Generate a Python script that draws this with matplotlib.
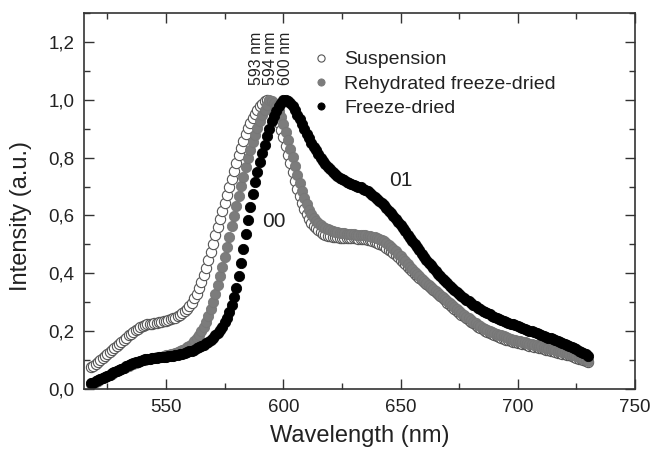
import numpy as np
import matplotlib
matplotlib.use("Agg")
import matplotlib.pyplot as plt
from matplotlib.ticker import MultipleLocator, FuncFormatter

plt.rcParams['font.family'] = ['Liberation Sans', 'DejaVu Sans']

# emission spectra, one value per nm from 518 to 730 nm
wavelength = np.arange(518, 731)

suspension = [
    0.075, 0.080, 0.087, 0.094, 0.101, 0.108, 0.115, 0.122, 0.129, 0.136,
    0.143, 0.150, 0.157, 0.164, 0.171, 0.178, 0.185, 0.191, 0.197, 0.203,
    0.209, 0.214, 0.218, 0.221, 0.223, 0.225, 0.226, 0.227, 0.228, 0.230,
    0.232, 0.234, 0.236, 0.238, 0.241, 0.244, 0.247, 0.251, 0.256, 0.262,
    0.269, 0.277, 0.287, 0.299, 0.313, 0.329, 0.348, 0.370, 0.394, 0.420,
    0.447, 0.475, 0.503, 0.531, 0.559, 0.587, 0.615, 0.643, 0.671, 0.699,
    0.727, 0.755, 0.782, 0.808, 0.833, 0.857, 0.880, 0.901, 0.920, 0.937,
    0.952, 0.965, 0.977, 0.987, 0.995, 1.000, 0.996, 0.985, 0.968, 0.946,
    0.921, 0.896, 0.870, 0.840, 0.810, 0.780, 0.750, 0.720, 0.693, 0.667,
    0.643, 0.622, 0.604, 0.588, 0.575, 0.564, 0.555, 0.548, 0.542, 0.537,
    0.533, 0.530, 0.528, 0.526, 0.525, 0.524, 0.523, 0.523, 0.522, 0.522,
    0.522, 0.521, 0.521, 0.521, 0.520, 0.519, 0.518, 0.517, 0.516, 0.514,
    0.512, 0.509, 0.506, 0.502, 0.498, 0.493, 0.488, 0.482, 0.476, 0.469,
    0.462, 0.455, 0.447, 0.439, 0.431, 0.423, 0.415, 0.407, 0.399, 0.391,
    0.383, 0.376, 0.369, 0.362, 0.355, 0.348, 0.341, 0.334, 0.327, 0.320,
    0.313, 0.306, 0.299, 0.292, 0.285, 0.278, 0.271, 0.264, 0.257, 0.251,
    0.245, 0.239, 0.233, 0.227, 0.221, 0.216, 0.211, 0.206, 0.201, 0.197,
    0.193, 0.189, 0.186, 0.183, 0.180, 0.177, 0.174, 0.171, 0.168, 0.166,
    0.164, 0.162, 0.160, 0.158, 0.156, 0.154, 0.152, 0.150, 0.148, 0.146,
    0.144, 0.142, 0.140, 0.138, 0.136, 0.134, 0.132, 0.130, 0.128, 0.126,
    0.124, 0.122, 0.120, 0.118, 0.116, 0.114, 0.111, 0.108, 0.105, 0.102,
    0.099, 0.096, 0.093,
]

rehydrated = [
    0.018, 0.021, 0.025, 0.029, 0.033, 0.037, 0.041, 0.045, 0.049, 0.053,
    0.057, 0.061, 0.065, 0.069, 0.073, 0.077, 0.081, 0.085, 0.088, 0.091,
    0.094, 0.097, 0.099, 0.101, 0.103, 0.105, 0.106, 0.108, 0.109, 0.111,
    0.112, 0.114, 0.116, 0.118, 0.120, 0.122, 0.125, 0.128, 0.131, 0.135,
    0.139, 0.144, 0.150, 0.157, 0.165, 0.175, 0.187, 0.200, 0.215, 0.232,
    0.252, 0.275, 0.300, 0.328, 0.358, 0.390, 0.423, 0.457, 0.492, 0.527,
    0.562, 0.597, 0.632, 0.667, 0.701, 0.734, 0.766, 0.797, 0.826, 0.853,
    0.878, 0.902, 0.925, 0.946, 0.965, 0.982, 1.000, 0.997, 0.990, 0.977,
    0.960, 0.940, 0.915, 0.888, 0.860, 0.831, 0.801, 0.771, 0.741, 0.712,
    0.685, 0.660, 0.638, 0.620, 0.605, 0.592, 0.582, 0.574, 0.567, 0.561,
    0.556, 0.552, 0.549, 0.546, 0.544, 0.542, 0.540, 0.539, 0.538, 0.537,
    0.536, 0.535, 0.535, 0.534, 0.534, 0.533, 0.532, 0.531, 0.530, 0.528,
    0.526, 0.524, 0.521, 0.518, 0.514, 0.510, 0.505, 0.499, 0.492, 0.485,
    0.477, 0.468, 0.459, 0.450, 0.441, 0.432, 0.423, 0.414, 0.405, 0.397,
    0.389, 0.381, 0.373, 0.366, 0.359, 0.352, 0.345, 0.338, 0.331, 0.324,
    0.317, 0.310, 0.303, 0.296, 0.289, 0.282, 0.275, 0.268, 0.262, 0.256,
    0.250, 0.244, 0.238, 0.232, 0.227, 0.222, 0.217, 0.212, 0.208, 0.204,
    0.200, 0.197, 0.194, 0.191, 0.188, 0.185, 0.182, 0.179, 0.176, 0.173,
    0.171, 0.169, 0.167, 0.165, 0.163, 0.161, 0.159, 0.157, 0.155, 0.153,
    0.151, 0.149, 0.147, 0.145, 0.143, 0.141, 0.139, 0.137, 0.135, 0.133,
    0.131, 0.129, 0.127, 0.125, 0.122, 0.119, 0.116, 0.113, 0.110, 0.107,
    0.104, 0.101, 0.098,
]

freeze_dried = [
    0.020, 0.022, 0.026, 0.030, 0.034, 0.038, 0.042, 0.046, 0.050, 0.054,
    0.058, 0.062, 0.066, 0.070, 0.074, 0.078, 0.082, 0.086, 0.089, 0.092,
    0.095, 0.098, 0.100, 0.102, 0.104, 0.105, 0.106, 0.107, 0.108, 0.109,
    0.110, 0.111, 0.112, 0.113, 0.114, 0.115, 0.116, 0.118, 0.120, 0.122,
    0.124, 0.127, 0.130, 0.133, 0.136, 0.140, 0.144, 0.148, 0.153, 0.158,
    0.164, 0.170, 0.177, 0.185, 0.194, 0.204, 0.216, 0.230, 0.247, 0.267,
    0.290, 0.318, 0.350, 0.390, 0.435, 0.485, 0.535, 0.585, 0.630, 0.675,
    0.715, 0.750, 0.785, 0.815, 0.845, 0.875, 0.900, 0.925, 0.945, 0.962,
    0.977, 0.990, 1.000, 1.000, 0.996, 0.988, 0.977, 0.963, 0.948, 0.932,
    0.915, 0.898, 0.882, 0.867, 0.852, 0.838, 0.825, 0.812, 0.800, 0.789,
    0.778, 0.768, 0.759, 0.751, 0.744, 0.737, 0.731, 0.726, 0.721, 0.717,
    0.713, 0.709, 0.706, 0.703, 0.700, 0.697, 0.693, 0.689, 0.684, 0.678,
    0.672, 0.665, 0.658, 0.651, 0.643, 0.635, 0.626, 0.617, 0.607, 0.597,
    0.587, 0.577, 0.567, 0.556, 0.545, 0.534, 0.523, 0.512, 0.501, 0.490,
    0.479, 0.468, 0.457, 0.447, 0.437, 0.427, 0.417, 0.408, 0.399, 0.390,
    0.381, 0.373, 0.365, 0.357, 0.349, 0.342, 0.335, 0.328, 0.321, 0.315,
    0.309, 0.303, 0.297, 0.291, 0.286, 0.281, 0.276, 0.271, 0.266, 0.262,
    0.258, 0.254, 0.250, 0.246, 0.242, 0.238, 0.235, 0.232, 0.229, 0.226,
    0.223, 0.220, 0.217, 0.214, 0.211, 0.208, 0.205, 0.202, 0.199, 0.196,
    0.193, 0.190, 0.187, 0.184, 0.181, 0.178, 0.175, 0.172, 0.169, 0.166,
    0.163, 0.160, 0.157, 0.153, 0.149, 0.145, 0.141, 0.137, 0.133, 0.129,
    0.125, 0.120, 0.115,
]

peak_nm = [593, 594, 600]
peak_labels = ['593 nm', '594 nm', '600 nm']

fig = plt.figure(figsize=(6.53, 4.5), dpi=100)
ax = fig.add_axes([0.1286, 0.1356, 0.8438, 0.8355])

ms = 7.4
ax.plot(wavelength, suspension, 'o', ms=ms, mfc='white', mec='#555555', mew=0.8,
        label='Suspension')
ax.plot(wavelength, rehydrated, 'o', ms=ms, mfc='#7c7c7c', mec='#777777', mew=0.6,
        label='Rehydrated freeze-dried')
ax.plot(wavelength, freeze_dried, 'o', ms=ms, mfc='black', mec='black', mew=0.6,
        label='Freeze-dried')

ax.set_xlim(515, 750)
ax.set_ylim(0, 1.3)
ax.xaxis.set_major_locator(MultipleLocator(50))
ax.xaxis.set_minor_locator(MultipleLocator(25))
ax.yaxis.set_major_locator(MultipleLocator(0.2))
ax.yaxis.set_minor_locator(MultipleLocator(0.1))
ax.yaxis.set_major_formatter(FuncFormatter(lambda v, p: ('%.1f' % v).replace('.', ',')))

ax.tick_params(which='both', direction='in', top=True, right=True,
               colors='#333333', labelcolor='#222222', labelsize=13.5, width=1.0)
ax.tick_params(which='major', length=7, pad=7)
ax.tick_params(which='minor', length=4)
for s in ax.spines.values():
    s.set_color('#333333')
    s.set_linewidth(1.2)

ax.set_xlabel('Wavelength (nm)', fontsize=17, color='#222222', labelpad=7)
ax.set_ylabel('Intensity (a.u.)', fontsize=17, color='#222222')
ax.yaxis.set_label_coords(-0.094, 0.46)

# peak positions, written vertically above the maxima
for nm, lab, dx in zip(peak_nm, peak_labels, [-4.5, 0.5, 0.8]):
    ax.text(nm + dx, 1.05, lab, rotation=90, ha='center', va='bottom',
            fontsize=11.5, color='#222222')

ax.text(596, 0.58, '00', ha='center', va='center', fontsize=15, color='#222222')
ax.text(650, 0.72, '01', ha='center', va='center', fontsize=15, color='#222222')

ax.legend(loc='upper left', bbox_to_anchor=(0.405, 0.92), frameon=False,
          fontsize=14, handlelength=0.6, handletextpad=0.9, labelspacing=0.34,
          borderaxespad=0.0, markerscale=0.7, labelcolor='#222222')

fig.savefig('out.png', dpi=100)
